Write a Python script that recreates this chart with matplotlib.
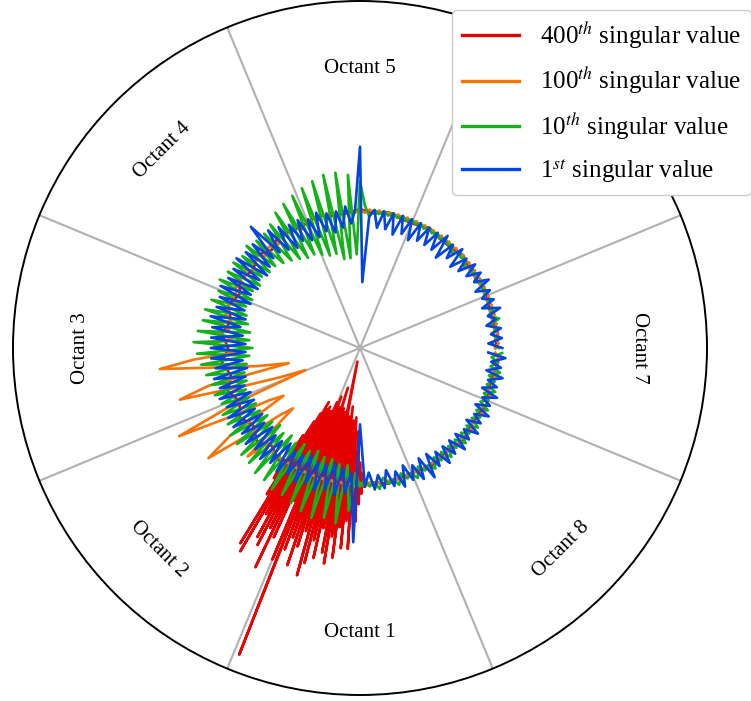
import numpy as np
import matplotlib
matplotlib.use("Agg")
import matplotlib.pyplot as plt

plt.rcParams['font.family'] = ['Liberation Serif', 'DejaVu Serif']
plt.rcParams['mathtext.fontset'] = 'stix'

# ---------------- data ----------------
# common angle grid (degrees) for 1st, 10th, 100th singular values
theta_deg = np.arange(0, 360, 2)

sv1 = [
    0.41, 0.37, 0.41, 0.38, 0.41, 0.37, 0.40, 0.38, 0.42, 0.37, 0.41, 0.38, 0.41, 0.37, 0.42,
    0.38, 0.41, 0.37, 0.41, 0.36, 0.40, 0.35, 0.41, 0.36, 0.40, 0.34, 0.41, 0.35, 0.40, 0.35,
    0.40, 0.35, 0.40, 0.34, 0.40, 0.35, 0.40, 0.34, 0.40, 0.35, 0.40, 0.35, 0.40, 0.38, 0.19,
    0.58, 0.40, 0.36, 0.41, 0.35, 0.40, 0.34, 0.40, 0.35, 0.41, 0.34, 0.40, 0.34, 0.41, 0.35,
    0.41, 0.34, 0.42, 0.35, 0.43, 0.36, 0.47, 0.36, 0.43, 0.35, 0.43, 0.34, 0.44, 0.35, 0.43,
    0.34, 0.43, 0.35, 0.44, 0.34, 0.43, 0.35, 0.43, 0.34, 0.44, 0.35, 0.43, 0.34, 0.43, 0.33,
    0.43, 0.33, 0.43, 0.34, 0.42, 0.33, 0.43, 0.34, 0.42, 0.35, 0.43, 0.34, 0.42, 0.34, 0.43,
    0.35, 0.43, 0.34, 0.42, 0.35, 0.43, 0.34, 0.42, 0.35, 0.43, 0.35, 0.42, 0.34, 0.43, 0.35,
    0.42, 0.35, 0.43, 0.34, 0.42, 0.35, 0.43, 0.35, 0.42, 0.34, 0.43, 0.35, 0.42, 0.36, 0.56,
    0.22, 0.40, 0.36, 0.41, 0.37, 0.41, 0.36, 0.41, 0.37, 0.42, 0.36, 0.41, 0.37, 0.42, 0.36,
    0.43, 0.36, 0.41, 0.37, 0.42, 0.37, 0.41, 0.37, 0.42, 0.37, 0.41, 0.38, 0.42, 0.37, 0.41,
    0.38, 0.42, 0.37, 0.41, 0.38, 0.42, 0.37, 0.41, 0.38, 0.42, 0.37, 0.41, 0.38, 0.42, 0.37,
]

sv10 = [
    0.40, 0.38, 0.40, 0.38, 0.40, 0.38, 0.41, 0.38, 0.40, 0.38, 0.40, 0.38, 0.40, 0.39, 0.40,
    0.38, 0.40, 0.39, 0.40, 0.38, 0.40, 0.39, 0.40, 0.38, 0.40, 0.39, 0.40, 0.39, 0.40, 0.39,
    0.40, 0.39, 0.40, 0.39, 0.40, 0.39, 0.40, 0.39, 0.40, 0.39, 0.40, 0.39, 0.40, 0.38, 0.41,
    0.48, 0.27, 0.50, 0.26, 0.51, 0.26, 0.51, 0.28, 0.50, 0.28, 0.49, 0.29, 0.48, 0.30, 0.47,
    0.30, 0.46, 0.31, 0.44, 0.32, 0.43, 0.33, 0.43, 0.34, 0.44, 0.34, 0.43, 0.35, 0.44, 0.34,
    0.44, 0.35, 0.45, 0.34, 0.44, 0.35, 0.45, 0.34, 0.46, 0.33, 0.46, 0.32, 0.47, 0.32, 0.48,
    0.31, 0.47, 0.32, 0.46, 0.33, 0.45, 0.34, 0.44, 0.34, 0.44, 0.35, 0.43, 0.35, 0.44, 0.34,
    0.44, 0.34, 0.45, 0.33, 0.45, 0.33, 0.46, 0.32, 0.46, 0.33, 0.47, 0.32, 0.47, 0.33, 0.48,
    0.32, 0.48, 0.33, 0.49, 0.32, 0.50, 0.33, 0.51, 0.33, 0.50, 0.34, 0.51, 0.34, 0.47, 0.36,
    0.40, 0.38, 0.40, 0.39, 0.41, 0.38, 0.40, 0.39, 0.41, 0.38, 0.40, 0.39, 0.41, 0.38, 0.40,
    0.39, 0.41, 0.38, 0.40, 0.38, 0.41, 0.38, 0.40, 0.38, 0.41, 0.38, 0.40, 0.38, 0.41, 0.38,
    0.40, 0.38, 0.41, 0.38, 0.40, 0.38, 0.41, 0.38, 0.40, 0.38, 0.41, 0.38, 0.40, 0.38, 0.41,
]

sv100 = [
    0.39, 0.40, 0.39, 0.40, 0.39, 0.40, 0.39, 0.40, 0.39, 0.40, 0.39, 0.40, 0.39, 0.40, 0.39,
    0.40, 0.39, 0.40, 0.39, 0.40, 0.39, 0.40, 0.39, 0.40, 0.39, 0.40, 0.39, 0.40, 0.39, 0.40,
    0.39, 0.40, 0.39, 0.40, 0.39, 0.40, 0.39, 0.40, 0.39, 0.40, 0.39, 0.40, 0.39, 0.40, 0.39,
    0.40, 0.39, 0.40, 0.39, 0.40, 0.39, 0.40, 0.39, 0.40, 0.39, 0.40, 0.39, 0.41, 0.38, 0.40,
    0.39, 0.40, 0.39, 0.40, 0.38, 0.40, 0.39, 0.40, 0.38, 0.40, 0.39, 0.40, 0.38, 0.40, 0.39,
    0.40, 0.38, 0.40, 0.39, 0.40, 0.38, 0.40, 0.39, 0.40, 0.38, 0.41, 0.38, 0.41, 0.37, 0.42,
    0.42, 0.36, 0.48, 0.58, 0.40, 0.30, 0.21, 0.45, 0.54, 0.36, 0.25, 0.17, 0.40, 0.58, 0.42,
    0.30, 0.26, 0.45, 0.54, 0.40, 0.30, 0.26, 0.45, 0.38, 0.41, 0.39, 0.40, 0.39, 0.40, 0.39,
    0.40, 0.39, 0.40, 0.39, 0.40, 0.39, 0.40, 0.39, 0.40, 0.39, 0.40, 0.39, 0.40, 0.39, 0.40,
    0.39, 0.40, 0.39, 0.40, 0.39, 0.40, 0.39, 0.40, 0.39, 0.40, 0.39, 0.40, 0.39, 0.40, 0.39,
    0.40, 0.39, 0.40, 0.39, 0.40, 0.39, 0.40, 0.39, 0.40, 0.39, 0.40, 0.39, 0.40, 0.39, 0.40,
    0.39, 0.40, 0.39, 0.40, 0.39, 0.40, 0.39, 0.40, 0.39, 0.40, 0.39, 0.40, 0.39, 0.40, 0.39,
]

# 400th singular value: finer sampling where it is noisy
theta400_deg = np.concatenate([np.arange(0, 236, 6), np.arange(236, 272.01, 0.5), np.arange(276, 360, 6)])
sv400 = [
    # 0 .. 234 step 6
    0.39, 0.40, 0.39, 0.39, 0.40, 0.39, 0.39, 0.40, 0.39, 0.39,
    0.40, 0.39, 0.39, 0.40, 0.39, 0.40, 0.39, 0.39, 0.40, 0.39,
    0.39, 0.40, 0.38, 0.40, 0.38, 0.40, 0.38, 0.40, 0.38, 0.40,
    0.38, 0.40, 0.38, 0.40, 0.38, 0.40, 0.38, 0.40, 0.38, 0.40,
    # 236 .. 272 step 0.5
    0.39, 0.45, 0.30, 0.50, 0.25, 0.66, 0.22, 0.68, 0.18, 0.55,
    0.28, 0.62, 0.20, 0.64, 0.19, 0.58, 0.26, 0.70, 0.20, 0.60,
    0.22, 0.48, 0.17, 0.66, 0.30, 0.95, 0.15, 0.62, 0.20, 0.58,
    0.18, 0.66, 0.25, 0.60, 0.12, 0.55, 0.24, 0.68, 0.18, 0.64,
    0.28, 0.57, 0.19, 0.62, 0.22, 0.53, 0.04, 0.60, 0.26, 0.63,
    0.20, 0.55, 0.22, 0.61, 0.17, 0.52, 0.27, 0.58, 0.21, 0.50,
    0.22, 0.58, 0.20, 0.48, 0.30, 0.50, 0.24, 0.45, 0.33, 0.42,
    0.36, 0.40, 0.39,
    # 276 .. 354 step 6
    0.39, 0.40, 0.39, 0.39, 0.40, 0.39, 0.39, 0.40, 0.39, 0.39,
    0.40, 0.39, 0.39, 0.40,
]

series = [
    (theta400_deg, sv400, '#e50000', r'400$^{th}$ singular value'),
    (theta_deg, sv100, '#f97306', r'100$^{th}$ singular value'),
    (theta_deg, sv10, '#15b01a', r'10$^{th}$ singular value'),
    (theta_deg, sv1, '#0343df', r'1$^{st}$ singular value'),
]

octant_names = ['Octant 1', 'Octant 2', 'Octant 3', 'Octant 4',
                'Octant 5', 'Octant 6', 'Octant 7', 'Octant 8']
octant_angles = [270, 225, 180, 135, 90, 45, 0, 315]
boundary_angles = [22.5, 67.5, 112.5, 157.5, 202.5, 247.5, 292.5, 337.5]

# ---------------- figure ----------------
fig = plt.figure(figsize=(7.51, 7.01), dpi=100)
ax = fig.add_axes([13 / 751, 6 / 701, 694 / 751, 694 / 701], projection='polar')

for th, vals, col, lab in series:
    th = np.asarray(th, dtype=float)
    ax.plot(np.deg2rad(th), vals, color=col, lw=1.9, label=lab)

ax.set_ylim(0, 1)
ax.set_yticks([])
ax.set_xticks(np.deg2rad(boundary_angles))
ax.set_xticklabels([])
ax.xaxis.grid(True, color='#b0b0b0', lw=1.5)
ax.tick_params(axis='x', length=0)
ax.spines['polar'].set_color('black')
ax.spines['polar'].set_linewidth(1.4)

for name, ang in zip(octant_names, octant_angles):
    rot = ang - 90
    if rot > 90:
        rot -= 180
    if rot < -90:
        rot += 180
    ax.text(np.deg2rad(ang), 0.812, name, rotation=rot, ha='center', va='center_baseline',
            fontsize=15, rotation_mode='anchor')

leg = ax.legend(loc='upper left', bbox_to_anchor=(452 / 751, 1 - 10 / 701),
                bbox_transform=fig.transFigure, fontsize=18, handlelength=2.3,
                labelspacing=0.6, framealpha=1, edgecolor='#cccccc', borderaxespad=0)
for line in leg.get_lines():
    line.set_linewidth(2.4)

fig.savefig('out.png', dpi=100)
